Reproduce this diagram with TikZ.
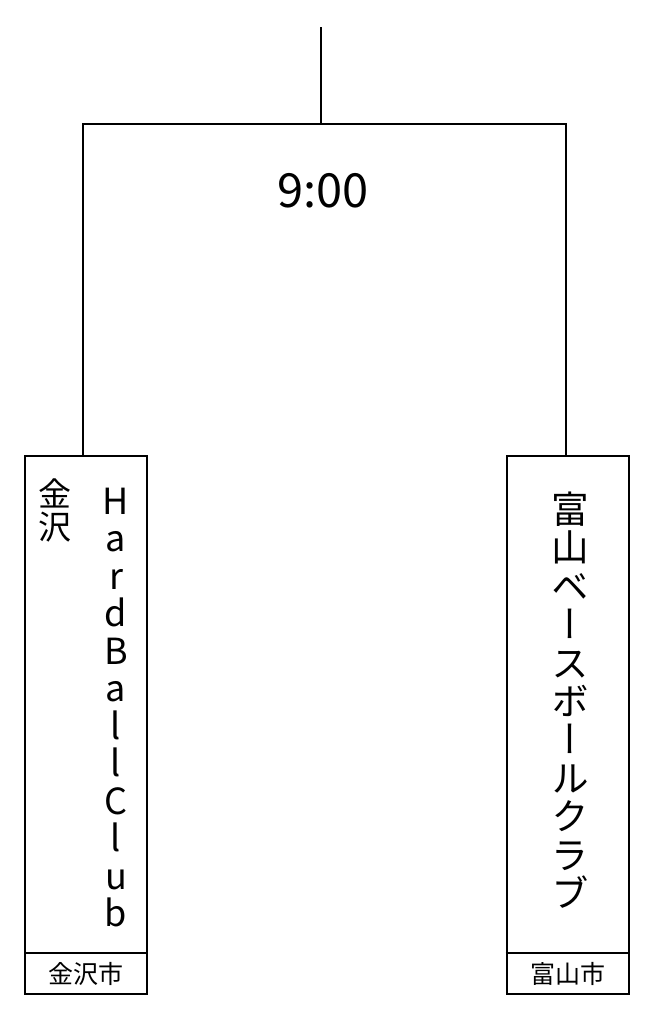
\documentclass[tikz,border=0pt]{standalone}
\usepackage{fontspec}
\setmainfont{Noto Sans CJK JP}
\newfontfamily\tatefont[RawFeature=+vert]{Noto Sans CJK JP}
\usetikzlibrary{positioning}

\begin{document}
\begin{tikzpicture}[x=0.5pt,y=-0.5pt,
	line width=1pt,
	teambox/.style={draw, rectangle, anchor=north, inner sep=0pt, minimum width=61pt, minimum height=269pt},
	tatetext/.style={anchor=north, inner sep=0pt, align=center},
	citytext/.style={inner sep=0pt, font=\fontsize{12.5pt}{12.5pt}\selectfont}]

\path [use as bounding box] (0,0) rectangle (655,1024);

% TEAMS
\node [teambox] (kanazawa) at (86,455) {};
\node [teambox] (toyama) at (567.5,455) {};

% BRACKET
\coordinate (root) at (321,27);
\coordinate (bar) at (321,124);
\draw (root) -- (bar);
\draw ([xshift=-1.5pt]kanazawa.north) |- (bar) -| ([xshift=-1pt]toyama.north);
\node [inner sep=0pt, font=\fontsize{23.5pt}{23.5pt}\selectfont] (time) at (323,191) {9:00};

% NAMES
\node [tatetext, font=\tatefont\fontsize{16.5pt}{16.5pt}\selectfont, below=11.5pt of kanazawa.north, xshift=-15.5pt] (kpref) {金\\沢};
\node [tatetext, font=\fontsize{18pt}{18.75pt}\selectfont, below=16pt of kanazawa.north, xshift=15pt] (kname) {H\\a\\r\\d\\B\\a\\l\\l\\C\\l\\u\\b};
\node [tatetext, font=\tatefont\fontsize{18.8pt}{19.2pt}\selectfont, below=18pt of toyama.north, xshift=1.5pt] (tname) {富\\山\\ベ\\ー\\ス\\ボ\\ー\\ル\\ク\\ラ\\ブ};

% CITY
\draw ([yshift=21pt]kanazawa.south west) -- ([yshift=21pt]kanazawa.south east);
\draw ([yshift=21pt]toyama.south west) -- ([yshift=21pt]toyama.south east);
\node [citytext, yshift=10.5pt] (kcity) at (kanazawa.south) {金沢市};
\node [citytext, yshift=10.5pt] (tcity) at (toyama.south) {富山市};

\end{tikzpicture}
\end{document}
